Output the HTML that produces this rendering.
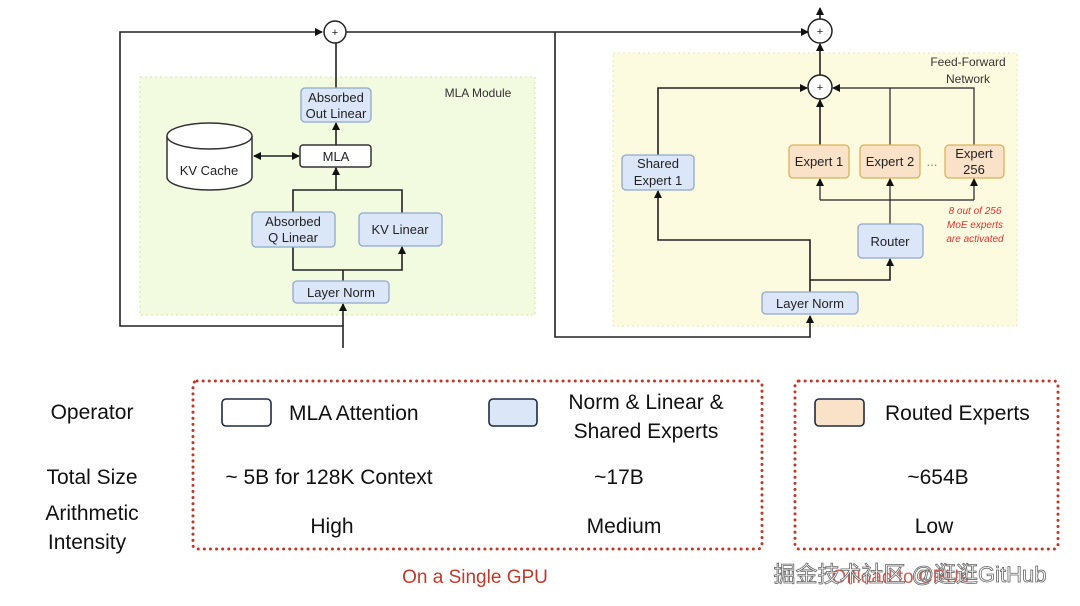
<!DOCTYPE html>
<html><head><meta charset="utf-8"><style>
html,body{margin:0;padding:0;background:#fff;}
svg{display:block;font-family:"Liberation Sans","Noto Sans CJK SC",sans-serif;}
</style></head><body>
<svg width="1080" height="606" viewBox="0 0 1080 606" xmlns="http://www.w3.org/2000/svg">
<defs>
<marker id="a" markerWidth="8" markerHeight="8" refX="7" refY="4" orient="auto" markerUnits="userSpaceOnUse"><path d="M0,0 L8,4 L0,8 Z" fill="#111"/></marker>
<marker id="b" markerWidth="8" markerHeight="8" refX="1" refY="4" orient="auto" markerUnits="userSpaceOnUse"><path d="M8,0 L0,4 L8,8 Z" fill="#111"/></marker>
</defs>
<rect x="140" y="77" width="395" height="238" fill="#f2fae0" stroke="#d6e6a8" stroke-dasharray="2,3"/>
<rect x="613" y="53" width="404" height="273" fill="#fdfbdf" stroke="#ece6a8" stroke-dasharray="2,3"/>
<text x="478" y="97" font-size="12" fill="#333" text-anchor="middle">MLA Module</text>
<text x="968" y="66" font-size="12" fill="#333" text-anchor="middle">Feed-Forward</text>
<text x="968" y="83" font-size="12" fill="#333" text-anchor="middle">Network</text>
<g stroke="#222" stroke-width="1.6" fill="none">
<polyline points="343,348 343,326 120,326 120,32 322,32" marker-end="url(#a)"/>
<line x1="346" y1="32" x2="808" y2="32" marker-end="url(#a)"/>
<polyline points="555,32 555,337 810,337 810,316" marker-end="url(#a)"/>
<line x1="343" y1="326" x2="343" y2="304" marker-end="url(#a)"/>
<line x1="343" y1="281" x2="343" y2="270"/>
<polyline points="293,247 293,270 402,270 402,247" marker-start="url(#a)" marker-end="url(#a)"/>
<polyline points="293,212 293,190 402,190 402,213"/>
<line x1="336" y1="190" x2="336" y2="168" marker-end="url(#a)"/>
<line x1="336" y1="145" x2="336" y2="123" marker-end="url(#a)"/>
<line x1="336" y1="88" x2="336" y2="43"/>
<line x1="254" y1="156" x2="299" y2="156" marker-start="url(#b)" marker-end="url(#a)"/>
<line x1="820" y1="19" x2="820" y2="8" marker-end="url(#a)"/>
<line x1="820" y1="75" x2="820" y2="44" marker-end="url(#a)"/>
<polyline points="658,155 658,88 807,88" marker-end="url(#a)"/>
<line x1="820" y1="145" x2="820" y2="100" marker-end="url(#a)"/>
<polyline points="974,145 974,88 833,88" marker-end="url(#a)" stroke-width="1.2"/>
<line x1="890" y1="145" x2="890" y2="88" stroke-width="1.2"/>
<polyline points="820,200 974,200" stroke-width="1.2"/>
<line x1="820" y1="200" x2="820" y2="179" marker-end="url(#a)" stroke-width="1.2"/>
<line x1="890" y1="224" x2="890" y2="179" marker-end="url(#a)" stroke-width="1.2"/>
<line x1="974" y1="200" x2="974" y2="179" marker-end="url(#a)" stroke-width="1.2"/>
<polyline points="810,292 810,240 658,240 658,191" marker-end="url(#a)"/>
<polyline points="810,280 890,280 890,259" marker-end="url(#a)"/>
</g>
<g fill="#fff" stroke="#222" stroke-width="1.5">
<circle cx="335" cy="32" r="11"/><circle cx="820" cy="31" r="12"/><circle cx="820" cy="87" r="12"/>
</g>
<g font-size="11" text-anchor="middle" fill="#222"><text x="335" y="36">+</text><text x="820" y="35">+</text><text x="820" y="91">+</text></g>
<g stroke="#333" stroke-width="1.5" fill="#fff">
<path d="M167,136 L167,177 A42.5,13 0 0 0 252,177 L252,136"/>
<ellipse cx="209.5" cy="136" rx="42.5" ry="13"/>
</g>
<text x="209" y="175" font-size="13" text-anchor="middle" fill="#222">KV Cache</text>
<g stroke="#8fa8cc" stroke-width="1.3" fill="#dbe7f8">
<rect x="301" y="88" width="70" height="34" rx="4"/>
<rect x="252" y="212" width="83" height="35" rx="4"/>
<rect x="359" y="213" width="83" height="33" rx="4"/>
<rect x="293" y="281" width="96" height="22" rx="4"/>
<rect x="622" y="155" width="72" height="35" rx="4"/>
<rect x="858" y="224" width="65" height="34" rx="4"/>
<rect x="762" y="292" width="96" height="22" rx="4"/>
</g>
<rect x="300" y="145" width="71" height="22" rx="3" fill="#fff" stroke="#333" stroke-width="1.5"/>
<g stroke="#d9b25a" stroke-width="1.3" fill="#f9e2c8">
<rect x="789" y="145" width="60" height="33" rx="4"/>
<rect x="860" y="145" width="60" height="33" rx="4"/>
<rect x="945" y="145" width="59" height="33" rx="4"/>
</g>
<g font-size="13" text-anchor="middle" fill="#222">
<text x="336" y="102">Absorbed</text><text x="336" y="118">Out Linear</text>
<text x="336" y="161">MLA</text>
<text x="293" y="226">Absorbed</text><text x="293" y="242">Q Linear</text>
<text x="400" y="234">KV Linear</text>
<text x="341" y="297">Layer Norm</text>
<text x="658" y="168">Shared</text><text x="658" y="185">Expert 1</text>
<text x="890" y="246">Router</text>
<text x="810" y="308">Layer Norm</text>
<text x="819" y="166">Expert 1</text>
<text x="890" y="166">Expert 2</text>
<text x="974" y="158">Expert</text><text x="974" y="174">256</text>
<text x="932" y="166" fill="#888">...</text>
</g>
<g font-size="10" font-style="italic" text-anchor="middle" fill="#e03030">
<text x="975" y="214">8 out of 256</text><text x="975" y="228">MoE experts</text><text x="975" y="242">are activated</text>
</g>
<g fill="none" stroke="#c0392b" stroke-width="3" stroke-dasharray="0.1,6" stroke-linecap="round">
<rect x="193" y="381" width="569" height="168" rx="4"/>
<rect x="795" y="381" width="263" height="168" rx="4"/>
</g>
<rect x="222" y="399" width="49" height="27" rx="4" fill="#fff" stroke="#1f2a44" stroke-width="1.6"/>
<rect x="489" y="399" width="48" height="27" rx="4" fill="#dbe7f8" stroke="#1f2a44" stroke-width="1.6"/>
<rect x="815" y="399" width="49" height="27" rx="4" fill="#f9e2c8" stroke="#1f2a44" stroke-width="1.6"/>
<g font-size="21" fill="#111">
<text x="92" y="419" text-anchor="middle">Operator</text>
<text x="92" y="484" text-anchor="middle">Total Size</text>
<text x="92" y="520" text-anchor="middle">Arithmetic</text>
<text x="87" y="549" text-anchor="middle">Intensity</text>
<text x="289" y="420">MLA Attention</text>
<text x="646" y="409" text-anchor="middle">Norm &amp; Linear &amp;</text>
<text x="646" y="438" text-anchor="middle">Shared Experts</text>
<text x="885" y="420">Routed Experts</text>
<text x="329" y="484" text-anchor="middle">~ 5B for 128K Context</text>
<text x="619" y="484" text-anchor="middle">~17B</text>
<text x="938" y="484" text-anchor="middle">~654B</text>
<text x="332" y="533" text-anchor="middle">High</text>
<text x="624" y="533" text-anchor="middle">Medium</text>
<text x="934" y="533" text-anchor="middle">Low</text>
</g>
<text x="475" y="583" font-size="19" fill="#c0392b" text-anchor="middle">On a Single GPU</text>
<text x="900" y="583" font-size="19" fill="#c0392b" text-anchor="middle" opacity="0.8">Offload to CPUs</text>
<text x="910" y="582" font-size="22" fill="#fff" stroke="#666" stroke-width="0.8" text-anchor="middle">掘金技术社区 @逛逛GitHub</text>
</svg>
</body></html>
